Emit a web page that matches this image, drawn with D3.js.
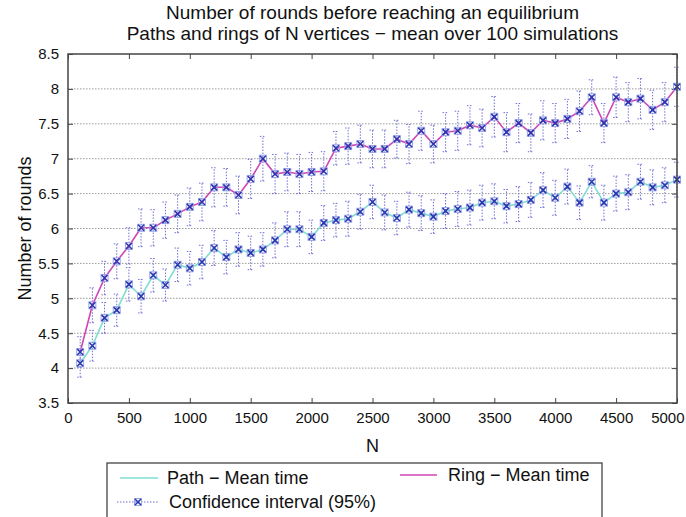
<!DOCTYPE html>
<html>
<head>
<meta charset="utf-8">
<script src="https://cdn.jsdelivr.net/npm/d3@7"></script>
<style>
  body { margin: 0; background: #fff; }
  text { font-family: "Liberation Sans", Arial, sans-serif; fill: #111; }
</style>
</head>
<body>
<script>
// number of vertices
var nValues = [100,200,300,400,500,600,700,800,900,1000,
               1100,1200,1300,1400,1500,1600,1700,1800,1900,2000,
               2100,2200,2300,2400,2500,2600,2700,2800,2900,3000,
               3100,3200,3300,3400,3500,3600,3700,3800,3900,4000,
               4100,4200,4300,4400,4500,4600,4700,4800,4900,5000];

var pathMean = [4.07,4.32,4.72,4.83,5.20,5.03,5.33,5.19,5.48,5.43,
                5.52,5.72,5.59,5.70,5.65,5.70,5.83,5.99,5.99,5.88,
                6.08,6.12,6.14,6.24,6.38,6.23,6.15,6.27,6.22,6.17,
                6.25,6.28,6.30,6.37,6.39,6.32,6.35,6.41,6.55,6.44,
                6.60,6.37,6.67,6.37,6.50,6.52,6.67,6.59,6.62,6.70];

var ringMean = [4.23,4.90,5.29,5.53,5.75,6.01,6.01,6.12,6.21,6.31,
                6.38,6.59,6.59,6.48,6.71,7.00,6.78,6.81,6.78,6.81,
                6.82,7.15,7.18,7.21,7.14,7.14,7.28,7.21,7.40,7.21,
                7.38,7.40,7.48,7.44,7.60,7.38,7.51,7.37,7.55,7.51,
                7.57,7.68,7.88,7.51,7.88,7.81,7.86,7.70,7.81,8.03];

// half width of the 95% confidence interval
var pathErr = [0.20,0.22,0.22,0.23,0.24,0.24,0.24,0.23,0.24,0.24,
               0.24,0.25,0.24,0.24,0.24,0.24,0.25,0.25,0.25,0.24,
               0.25,0.24,0.25,0.25,0.24,0.25,0.24,0.25,0.25,0.24,
               0.25,0.25,0.25,0.25,0.25,0.24,0.25,0.25,0.25,0.25,
               0.25,0.24,0.23,0.25,0.25,0.25,0.25,0.25,0.25,0.25];

var ringErr = [0.22,0.25,0.24,0.25,0.26,0.27,0.26,0.26,0.27,0.27,
               0.27,0.28,0.27,0.27,0.28,0.32,0.28,0.27,0.28,0.28,
               0.28,0.24,0.26,0.27,0.27,0.27,0.27,0.28,0.28,0.27,
               0.28,0.28,0.28,0.27,0.29,0.28,0.28,0.27,0.28,0.28,
               0.28,0.29,0.25,0.28,0.29,0.28,0.29,0.28,0.28,0.28];

var xTicks = [0,500,1000,1500,2000,2500,3000,3500,4000,4500,5000];
var yTicks = [3.5,4,4.5,5,5.5,6,6.5,7,7.5,8,8.5];

var W = 686, H = 517;
var pLeft = 68, pRight = 677, pTop = 54, pBottom = 403;

var svg = d3.select('body').append('svg')
        .attr('width', W)
        .attr('height', H);

var x = d3.scaleLinear().domain([0, 5000]).range([pLeft, pRight]);
var y = d3.scaleLinear().domain([3.5, 8.5]).range([pBottom, pTop]);

// grid
svg.append('g').selectAll('line')
        .data(yTicks.filter(function(d) { return d > 3.5 && d < 8.5; }))
        .enter().append('line')
        .attr('x1', pLeft).attr('x2', pRight)
        .attr('y1', function(d) { return y(d); })
        .attr('y2', function(d) { return y(d); })
        .attr('stroke', '#9a9a9a')
        .attr('stroke-width', 1)
        .attr('stroke-dasharray', '1.5,1.5');

// axes, ticks pointing inwards
function styleAxis(g) {
    g.select('.domain').remove();
    g.selectAll('.tick line').attr('stroke', '#444').attr('stroke-width', 1);
    g.selectAll('.tick text')
        .style('font-family', '"Liberation Sans", Arial, sans-serif')
        .style('font-size', '15px')
        .attr('fill', '#111');
}

var xAxisG = svg.append('g')
        .attr('transform', 'translate(0,' + pBottom + ')')
        .call(d3.axisBottom(x).tickValues(xTicks).tickSize(-5).tickPadding(9).tickFormat(d3.format('d')))
        .call(styleAxis);
// last label sits inside the window
xAxisG.selectAll('.tick text')
        .filter(function(d) { return d === 5000; })
        .attr('text-anchor', 'end')
        .attr('x', 7);

svg.append('g')
        .attr('transform', 'translate(0,' + pTop + ')')
        .call(d3.axisTop(x).tickValues(xTicks).tickSize(-5).tickFormat(''))
        .call(styleAxis);
svg.append('g')
        .attr('transform', 'translate(' + pLeft + ',0)')
        .call(d3.axisLeft(y).tickValues(yTicks).tickSize(-5).tickPadding(9).tickFormat(d3.format('')))
        .call(styleAxis);
svg.append('g')
        .attr('transform', 'translate(' + pRight + ',0)')
        .call(d3.axisRight(y).tickValues(yTicks).tickSize(-5).tickFormat(''))
        .call(styleAxis);

// error bars
function errorBars(means, errs) {
    var g = svg.append('g');
    var data = nValues.map(function(n, i) { return {n: n, m: means[i], e: errs[i]}; });
    var eb = g.selectAll('g').data(data).enter().append('g')
            .attr('stroke', '#6f6fd6')
            .attr('stroke-width', 1)
            .attr('stroke-dasharray', '1.5,1.5');
    eb.append('line')
        .attr('x1', function(d) { return x(d.n); })
        .attr('x2', function(d) { return x(d.n); })
        .attr('y1', function(d) { return y(d.m - d.e); })
        .attr('y2', function(d) { return y(d.m + d.e); });
    [-1, 1].forEach(function(s) {
        eb.append('line')
            .attr('x1', function(d) { return x(d.n) - 3; })
            .attr('x2', function(d) { return x(d.n) + 3; })
            .attr('y1', function(d) { return y(d.m + s * d.e); })
            .attr('y2', function(d) { return y(d.m + s * d.e); });
    });
}
errorBars(pathMean, pathErr);
errorBars(ringMean, ringErr);

var line = d3.line()
        .x(function(d, i) { return x(nValues[i]); })
        .y(function(d) { return y(d); });

svg.append('path').datum(pathMean)
        .attr('d', line)
        .attr('fill', 'none')
        .attr('stroke', '#7fded3')
        .attr('stroke-width', 1.6);
svg.append('path').datum(ringMean)
        .attr('d', line)
        .attr('fill', 'none')
        .attr('stroke', '#cf45b4')
        .attr('stroke-width', 1.6);

function marker(sel) {
    sel.append('rect')
        .attr('x', -3.5).attr('y', -3.5)
        .attr('width', 7).attr('height', 7)
        .attr('fill', 'none')
        .attr('stroke', '#9aa6e6')
        .attr('stroke-width', 1);
    sel.append('path')
        .attr('d', 'M-3,-3L3,3M-3,3L3,-3')
        .attr('stroke', '#2b35b0')
        .attr('stroke-width', 1.6);
}

[pathMean, ringMean].forEach(function(means) {
    svg.append('g').selectAll('g').data(means).enter().append('g')
        .attr('transform', function(d, i) { return 'translate(' + x(nValues[i]) + ',' + y(d) + ')'; })
        .call(marker);
});

// frame
svg.append('rect')
        .attr('x', pLeft).attr('y', pTop)
        .attr('width', pRight - pLeft).attr('height', pBottom - pTop)
        .attr('fill', 'none')
        .attr('stroke', '#444')
        .attr('stroke-width', 1.5);

// titles
var cx = (pLeft + pRight) / 2;
svg.append('text').attr('x', cx).attr('y', 19)
        .attr('text-anchor', 'middle').style('font-size', '19px')
        .text('Number of rounds before reaching an equilibrium');
svg.append('text').attr('x', cx).attr('y', 40)
        .attr('text-anchor', 'middle').style('font-size', '19px')
        .text('Paths and rings of N vertices \u2212 mean over 100 simulations');
svg.append('text').attr('x', cx).attr('y', 452)
        .attr('text-anchor', 'middle').style('font-size', '18px')
        .text('N');
svg.append('text')
        .attr('transform', 'translate(25,' + ((pTop + pBottom) / 2) + ') rotate(-90)')
        .attr('dy', '0.35em')
        .attr('text-anchor', 'middle').style('font-size', '18px')
        .text('Number of rounds');

// legend
var lg = svg.append('g');
lg.append('rect')
        .attr('x', 107).attr('y', 463)
        .attr('width', 495).attr('height', 60)
        .attr('fill', '#fff')
        .attr('stroke', '#444')
        .attr('stroke-width', 1.3);
lg.append('line').attr('x1', 120).attr('x2', 158).attr('y1', 478).attr('y2', 478)
        .attr('stroke', '#7fded3').attr('stroke-width', 1.6);
lg.append('text').attr('x', 167).attr('y', 484).style('font-size', '18px')
        .text('Path \u2212 Mean time');
lg.append('line').attr('x1', 400).attr('x2', 437).attr('y1', 475).attr('y2', 475)
        .attr('stroke', '#cf45b4').attr('stroke-width', 1.6);
lg.append('text').attr('x', 448).attr('y', 481).style('font-size', '18px')
        .text('Ring \u2212 Mean time');
lg.append('line').attr('x1', 117).attr('x2', 158).attr('y1', 502).attr('y2', 502)
        .attr('stroke', '#6f6fd6').attr('stroke-width', 1).attr('stroke-dasharray', '1.5,1.5');
lg.append('g').attr('transform', 'translate(138,502)').call(marker);
lg.append('text').attr('x', 169).attr('y', 508).style('font-size', '18px')
        .text('Confidence interval (95%)');
</script>
</body>
</html>
